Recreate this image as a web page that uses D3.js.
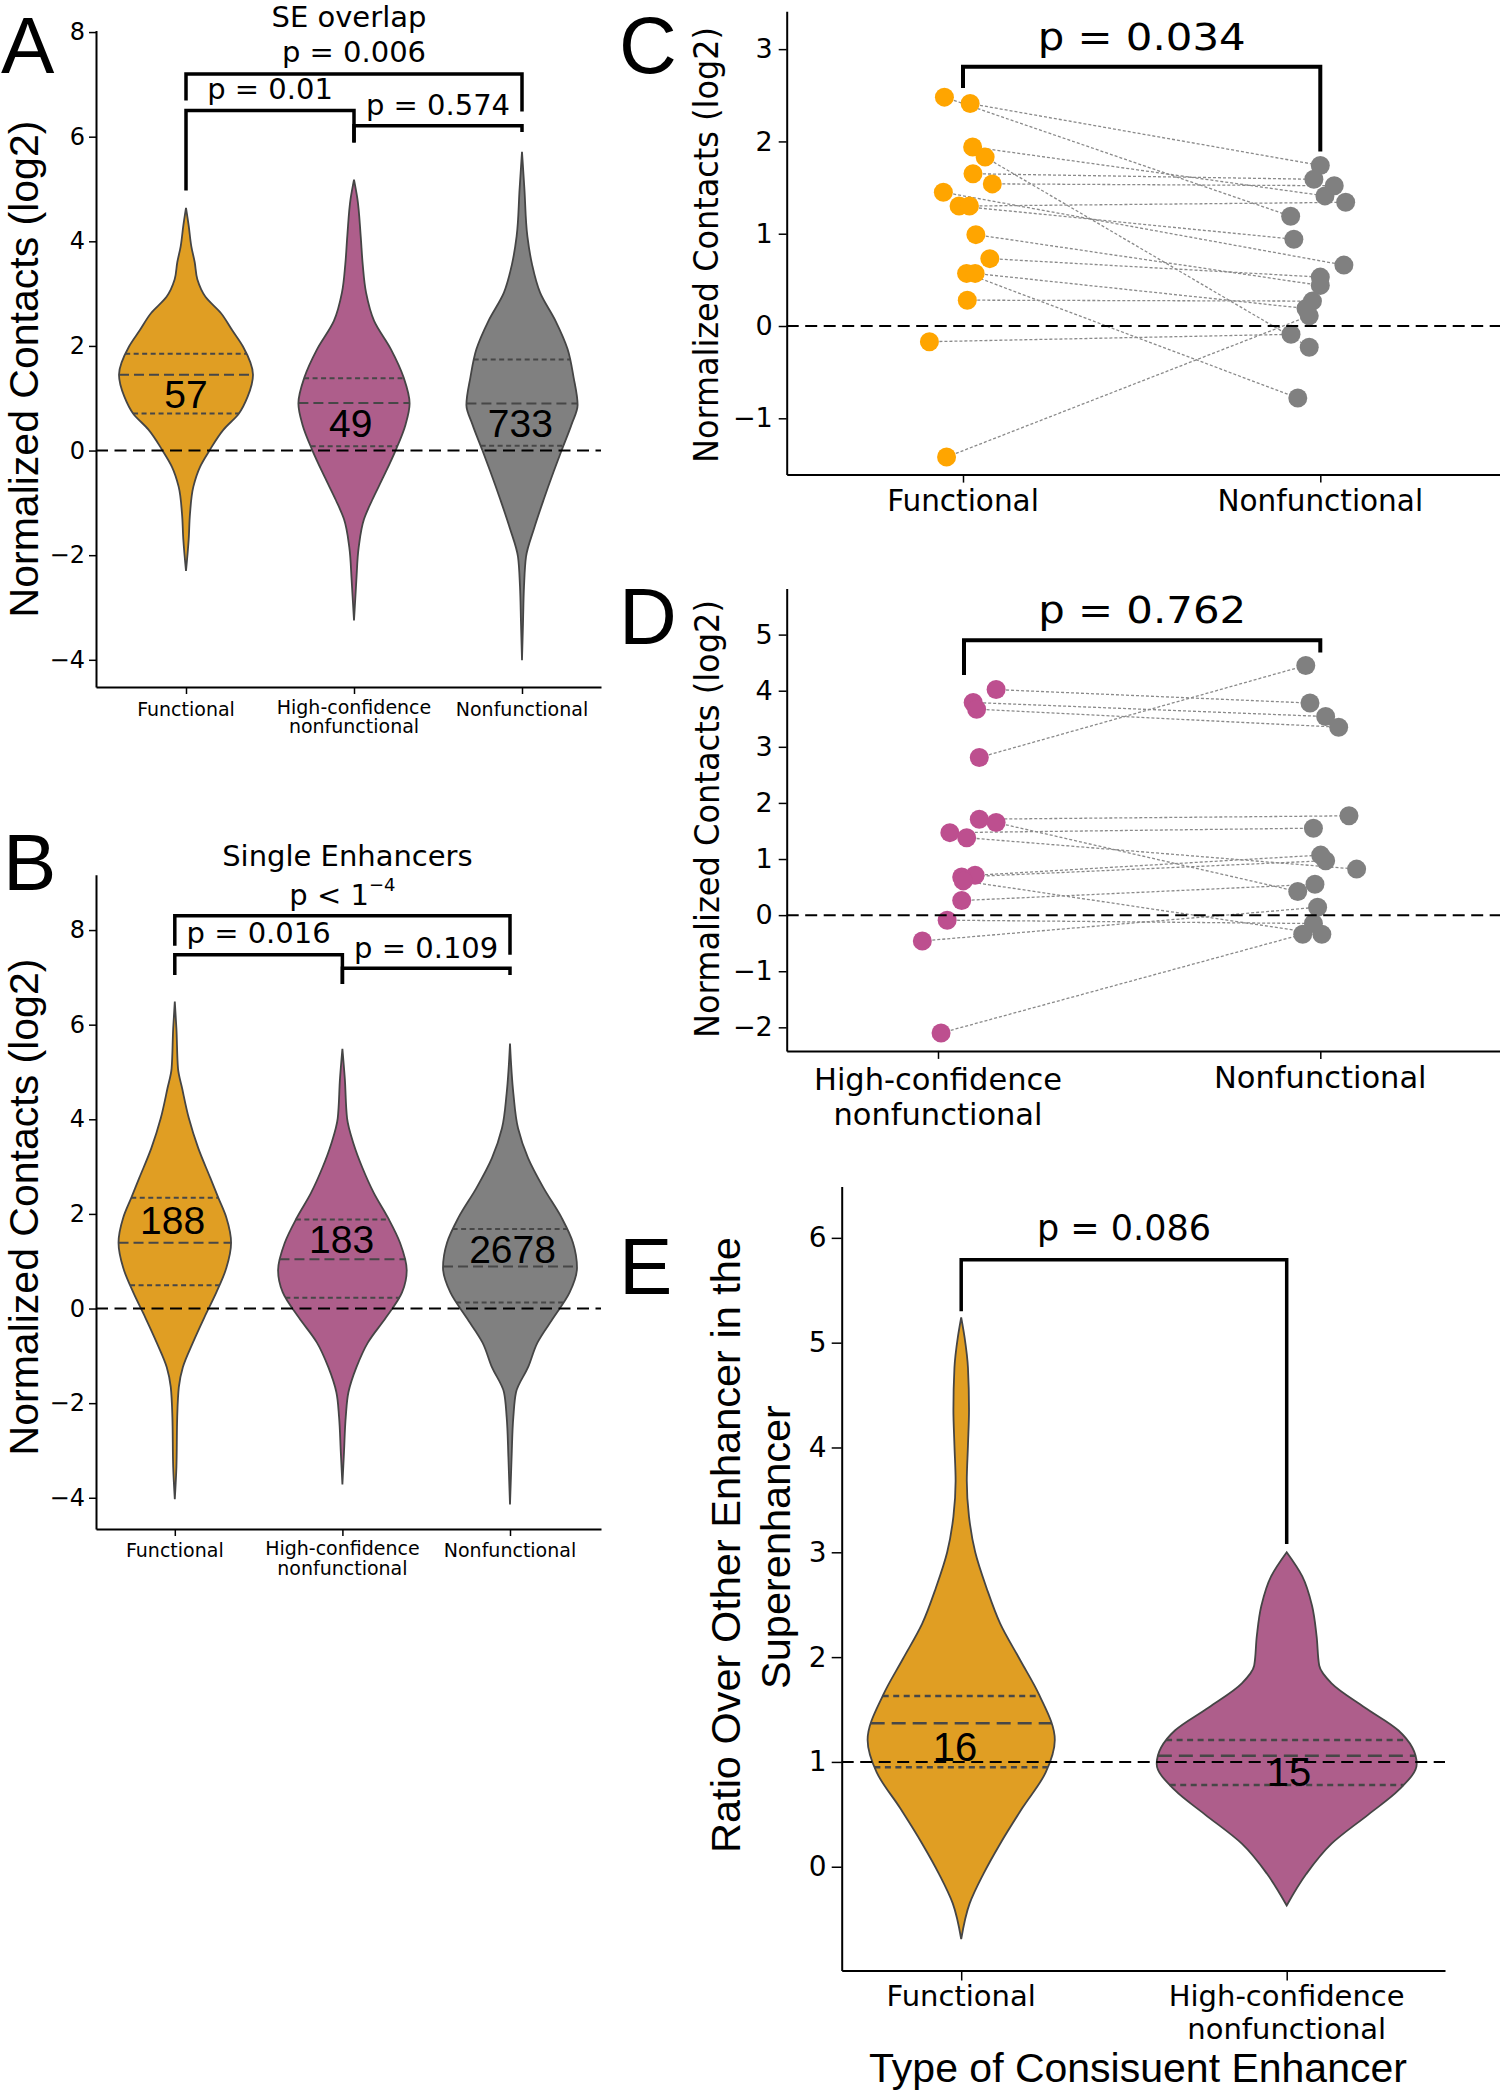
<!DOCTYPE html>
<html><head><meta charset="utf-8">
<script src="https://cdn.jsdelivr.net/npm/d3@7"></script>
<style>body{margin:0;background:#fff}svg{display:block}</style>
</head><body><script>
// ================= DATA =================
const catsAB = [["Functional"], ["High-confidence", "nonfunctional"], ["Nonfunctional"]];
const catsC = [["Functional"], ["Nonfunctional"]];
const catsD = [["High-confidence", "nonfunctional"], ["Nonfunctional"]];
const catsE = [["Functional"], ["High-confidence", "nonfunctional"]];
const ticksA = [-4, -2, 0, 2, 4, 6, 8];
const ticksB = [-4, -2, 0, 2, 4, 6, 8];
const ticksC = [-1, 0, 1, 2, 3];
const ticksD = [-2, -1, 0, 1, 2, 3, 4, 5];
const ticksE = [0, 1, 2, 3, 4, 5, 6];

// Panel A (SE overlap) violin profiles: level (log2) and relative half-width
const aFuncV = [4.64, 4.3, 3.9, 3.6, 3.27, 2.94, 2.63, 2.30, 1.99, 1.45, 1.03, 0.71, 0.40, 0.0, -0.31, -0.69, -1.2, -1.7, -2.30];
const aFuncD = [0, 0.04, 0.08, 0.13, 0.17, 0.29, 0.52, 0.69, 0.85, 1.0, 0.92, 0.79, 0.56, 0.35, 0.21, 0.11, 0.06, 0.04, 0];
const aHcV = [5.18, 4.82, 4.10, 3.56, 3.02, 2.48, 1.94, 1.40, 0.90, 0.50, 0, -0.50, -0.95, -1.31, -1.85, -2.48, -3.25];
const aHcD = [0, 0.05, 0.10, 0.13, 0.18, 0.30, 0.55, 0.74, 0.83, 0.77, 0.62, 0.44, 0.27, 0.15, 0.07, 0.035, 0];
const aNfV = [5.71, 5.0, 4.10, 3.56, 3.02, 2.48, 1.94, 1.40, 0.87, 0.50, 0, -0.41, -0.95, -1.49, -2.03, -2.6, -3.3, -4.01];
const aNfD = [0, 0.036, 0.08, 0.15, 0.27, 0.5, 0.68, 0.77, 0.83, 0.74, 0.59, 0.47, 0.32, 0.18, 0.06, 0.03, 0.015, 0];
const aQuart = [[0.71, 1.45, 1.85], [0.08, 0.91, 1.38], [0.09, 0.90, 1.74]];
const aCounts = ["57", "49", "733"];
const aCountPos = [[0, 1.08], [0.98, 0.52], [1.99, 0.52]];
const aBrackets = [[0, 2, 7.20, 6.69, 6.48], [0, 1, 6.50, 4.97, 5.89], [1, 2, 6.21, 5.89, 6.09]];
const aTexts = [[0.97, 8.09, "SE overlap"], [1, 7.43, "p = 0.006"], [0.5, 6.72, "p = 0.01"], [1.5, 6.41, "p = 0.574"]];

// Panel B (Single Enhancers)
const bFuncV = [6.49, 5.92, 5.07, 4.65, 4.02, 3.39, 2.76, 2.34, 1.92, 1.39, 0.86, 0.34, -0.19, -0.72, -1.24, -1.66, -2.29, -3.35, -4.03];
const bFuncD = [0, 0.024, 0.048, 0.11, 0.21, 0.35, 0.53, 0.65, 0.77, 0.84, 0.77, 0.62, 0.44, 0.27, 0.12, 0.06, 0.036, 0.024, 0];
const bHcV = [5.49, 4.86, 4.02, 3.49, 2.97, 2.44, 1.92, 1.39, 0.81, 0.34, -0.19, -0.72, -1.24, -1.77, -2.29, -3.03, -3.72];
const bHcD = [0, 0.036, 0.07, 0.165, 0.3, 0.47, 0.68, 0.86, 0.96, 0.89, 0.65, 0.38, 0.21, 0.09, 0.05, 0.024, 0];
const bNfV = [5.6, 4.55, 3.81, 3.18, 2.55, 1.92, 1.39, 0.86, 0.34, -0.19, -0.72, -1.24, -1.77, -2.29, -3.14, -4.14];
const bNfD = [0, 0.05, 0.12, 0.27, 0.5, 0.77, 0.94, 1.0, 0.89, 0.65, 0.41, 0.27, 0.09, 0.05, 0.024, 0];
const bQuart = [[0.49, 1.39, 2.34], [0.23, 1.04, 1.88], [0.13, 0.89, 1.68]];
const bCounts = ["188", "183", "2678"];
const bCountPos = [[-0.013, 1.88], [0.995, 1.47], [2.015, 1.25]];
const bBrackets = [[0, 2, 8.30, 7.67, 7.48], [0, 1, 7.48, 7.05, 6.86], [1, 2, 7.19, 6.86, 7.05]];
const bTexts = [[1.03, 9.36, "Single Enhancers"], [0.5, 7.72, "p = 0.016"], [1.5, 7.41, "p = 0.109"]];
const bSigText = [1.0, 8.53, "p < 1", "\u22124"];

// Panel C (paired: Functional vs Nonfunctional)
const cFunc = [2.48, 2.41, 1.94, 1.83, 1.65, 1.54, 1.45, 1.30, 1.30, 0.99, 0.73, 0.57, 0.57, 0.28, -0.17, -1.42];
const cFuncJit = [-0.052, 0.020, 0.027, 0.062, 0.028, 0.082, -0.055, -0.011, 0.018, 0.036, 0.075, 0.010, 0.034, 0.012, -0.094, -0.046];
const cNf = [1.74, 1.59, 1.52, 1.41, 1.34, 1.19, 0.94, 0.66, 0.53, 0.44, 0.27, 0.19, 0.11, -0.09, -0.23, -0.78];
const cNfJit = [0.0, -0.018, 0.039, 0.013, 0.071, -0.083, -0.074, 0.066, 0.0, 0.0, -0.022, -0.040, -0.031, -0.082, -0.031, -0.063];
const cPairs = [5, 0, 3, 14, 1, 2, 7, 6, 4, 9, 8, 15, 11, 10, 13, 12];
const cBracket = [0, 1, 2.81, 2.58, 1.89];
const cText = [0.5, 2.99, "p = 0.034"];

// Panel D (paired: High-confidence nonfunctional vs Nonfunctional)
const dHc = [4.02, 3.79, 3.67, 2.81, 1.71, 1.65, 1.47, 1.38, 0.71, 0.68, 0.61, 0.26, -0.09, -0.46, -2.10];
const dHcJit = [0.152, 0.092, 0.101, 0.108, 0.108, 0.152, 0.031, 0.075, 0.097, 0.062, 0.066, 0.062, 0.024, -0.041, 0.008];
const dNf = [4.45, 3.78, 3.54, 3.35, 1.77, 1.55, 1.07, 0.97, 0.82, 0.55, 0.42, 0.14, -0.15, -0.34, -0.34];
const dNfJit = [-0.038, -0.027, 0.014, 0.048, 0.075, -0.018, 0.001, 0.014, 0.095, -0.014, -0.059, -0.007, -0.018, -0.046, 0.004];
const dPairs = [1, 2, 3, 0, 4, 10, 5, 8, 6, 7, 14, 9, 12, 11, 13];
const dBracket = [0.068, 1, 4.90, 4.28, 4.68];
const dText = [0.534, 5.21, "p = 0.762"];

// Panel E (ratio over other enhancer)
const eFuncV = [5.24, 5.05, 4.76, 4.36, 4.02, 3.68, 3.34, 3.0, 2.66, 2.32, 1.98, 1.64, 1.21, 0.90, 0.56, 0.22, -0.07, -0.35, -0.69];
const eFuncD = [0, 0.026, 0.052, 0.06, 0.052, 0.043, 0.06, 0.108, 0.195, 0.30, 0.45, 0.60, 0.72, 0.65, 0.47, 0.30, 0.17, 0.065, 0];
const eHcV = [3.0, 2.77, 2.49, 2.2, 1.92, 1.75, 1.52, 1.30, 0.98, 0.73, 0.50, 0.22, -0.07, -0.37];
const eHcD = [0, 0.12, 0.195, 0.23, 0.25, 0.345, 0.60, 0.86, 1.0, 0.86, 0.63, 0.345, 0.15, 0];
const eQuart = [[0.95, 1.37, 1.63], [0.78, 1.06, 1.21]];
const eCounts = ["16", "15"];
const eCountPos = [[-0.019, 1.15], [1.007, 0.91]];
const eBracket = [0, 1, 5.79, 5.30, 3.08];
const eText = [0.5, 5.98, "p = 0.086"];

// ================= STYLE =================
const FT = '"DejaVu Sans", sans-serif';
const FA = '"Liberation Sans", Arial, sans-serif';
const VCOL = ["#E09E23", "#AE5E8B", "#808080"];
const DOTC = {func: "#FFA500", hc: "#BD4F8F", nf: "#808080"};
const OUTLINE = "#454545";

const svg = d3.select("body").append("svg").attr("width", 1500).attr("height", 2093)
  .style("background", "#fff");

const fmtTick = d => (d < 0 ? "\u2212" + Math.abs(d) : String(d));

function makeAxes(o) {
  const g = svg.append("g");
  const ys = d3.scaleLinear().domain(o.yDom).range([o.yBot, o.yTop]);
  const xs = d3.scaleLinear().domain([0, o.nCat - 1]).range(o.catPx);
  const xa = d3.scaleLinear().domain([xs.invert(o.x0), xs.invert(o.x1)]).range([o.x0, o.x1]);
  const yg = g.append("g").attr("transform", `translate(${o.x0},0)`)
    .call(d3.axisLeft(ys).tickValues(o.yTicks).tickFormat(fmtTick).tickSize(o.tick).tickSizeOuter(0).tickPadding(o.pad));
  yg.select(".domain").attr("stroke", "#000").attr("stroke-width", 2);
  yg.selectAll(".tick line").attr("stroke", "#000").attr("stroke-width", 1.5);
  yg.selectAll(".tick text").attr("font-family", FT).attr("font-size", o.yFs).attr("fill", "#000");
  const xg = g.append("g").attr("transform", `translate(0,${o.yBot})`)
    .call(d3.axisBottom(xa).tickValues(d3.range(o.nCat)).tickFormat("").tickSize(o.tick).tickSizeOuter(0));
  xg.select(".domain").attr("stroke", "#000").attr("stroke-width", 2);
  xg.selectAll(".tick line").attr("stroke", "#000").attr("stroke-width", 1.5);
  o.cats.forEach((lines, i) => {
    const t = g.append("text").attr("font-family", FT).attr("font-size", o.xFs).attr("text-anchor", "middle").attr("fill", "#000");
    lines.forEach((ln, k) => {
      t.append("tspan").attr("x", xs(i)).attr("y", (lines.length === 1 ? o.xLab1 : (k === 0 ? o.xLab2a : o.xLab2b))).text(ln);
    });
  });
  return {g, xs, ys};
}

function drawViolin(g, xs, ys, idx, vals, dens, half, fill, quart, qStyle) {
  const pts = vals.map((v, i) => ({v, d: dens[i]}));
  const cx = xs(idx);
  const area = d3.area().y(d => ys(d.v)).x0(d => cx - d.d * half).x1(d => cx + d.d * half).curve(d3.curveMonotoneY);
  g.append("path").attr("d", area(pts)).attr("fill", fill).attr("stroke", OUTLINE).attr("stroke-width", 1.8);
  const rightLine = d3.line().y(d => ys(d.v)).x(d => cx + d.d * half).curve(d3.curveMonotoneY);
  const tmp = g.append("path").attr("d", rightLine(pts)).attr("fill", "none").attr("stroke", "none");
  const node = tmp.node(), L = node.getTotalLength();
  const samples = d3.range(0, 801).map(k => node.getPointAtLength(L * k / 800));
  tmp.remove();
  function halfAt(yPx) {
    for (let k = 0; k < samples.length - 1; k++) {
      const a = samples[k], b = samples[k + 1];
      if ((a.y - yPx) * (b.y - yPx) <= 0 && a.y !== b.y) {
        const t = (yPx - a.y) / (b.y - a.y);
        return a.x + t * (b.x - a.x) - cx;
      }
    }
    return 0;
  }
  quart.forEach((q, k) => {
    const yp = ys(q), h = halfAt(yp);
    g.append("line").attr("x1", cx - h).attr("x2", cx + h).attr("y1", yp).attr("y2", yp)
      .attr("stroke", "#474747").attr("stroke-width", qStyle.w)
      .attr("stroke-dasharray", k === 1 ? qStyle.med : qStyle.q);
  });
}

function refLine(g, ax, o, v) {
  g.append("line").attr("x1", o.x0).attr("x2", o.x1).attr("y1", ax.ys(v)).attr("y2", ax.ys(v))
    .attr("stroke", "#000").attr("stroke-width", 2).attr("stroke-dasharray", "12,6.5");
}

function bracket(g, ax, br, w) {
  const [xa, xb, yb, yl, yr] = br;
  const p = d3.path();
  p.moveTo(ax.xs(xa), ax.ys(yl)); p.lineTo(ax.xs(xa), ax.ys(yb));
  p.lineTo(ax.xs(xb), ax.ys(yb)); p.lineTo(ax.xs(xb), ax.ys(yr));
  g.append("path").attr("d", p.toString()).attr("fill", "none").attr("stroke", "#000").attr("stroke-width", w);
}

function label(g, x, y, txt, fs, font, opts = {}) {
  const t = g.append("text").attr("x", x).attr("y", y).attr("font-family", font).attr("font-size", fs)
    .attr("text-anchor", opts.anchor || "middle").attr("fill", "#000").text(txt);
  if (opts.len) t.attr("textLength", opts.len).attr("lengthAdjust", "spacingAndGlyphs");
  return t;
}

function counts(g, ax, arr, pos, fs) {
  arr.forEach((c, i) => {
    label(g, ax.xs(pos[i][0]), ax.ys(pos[i][1]), c, fs, FA).attr("dy", "0.36em");
  });
}

function yLabel(x, y, txt, fs, font, len) {
  const t = svg.append("text").attr("transform", `translate(${x},${y}) rotate(-90)`)
    .attr("font-family", font).attr("font-size", fs).attr("text-anchor", "middle").attr("fill", "#000").text(txt);
  if (len) t.attr("textLength", len).attr("lengthAdjust", "spacingAndGlyphs");
}

const qAB = {w: 2, q: "5,3.5", med: "10,5"};

// ================= PANEL A =================
const oA = {x0: 96, x1: 601, yTop: 30.5, yBot: 687, yDom: [-4.52, 8.03], nCat: 3, catPx: [186, 522],
  yTicks: ticksA, tick: 7, pad: 4, yFs: 24, xFs: 19, cats: catsAB, xLab1: 716, xLab2a: 714, xLab2b: 733};
const axA = makeAxes(oA);
[[aFuncV, aFuncD], [aHcV, aHcD], [aNfV, aNfD]].forEach((p, i) =>
  drawViolin(axA.g, axA.xs, axA.ys, i, p[0], p[1], 67, VCOL[i], aQuart[i], qAB));
refLine(axA.g, axA, oA, 0);
counts(axA.g, axA, aCounts, aCountPos, 39);
aBrackets.forEach(b => bracket(axA.g, axA, b, 3.5));
aTexts.forEach(t => label(axA.g, axA.xs(t[0]), axA.ys(t[1]), t[2], 29, FT));
yLabel(37.5, 369, "Normalized Contacts (log2)", 41, FA);

// ================= PANEL B =================
const oB = {x0: 96, x1: 601, yTop: 874.7, yBot: 1529, yDom: [-4.66, 9.17], nCat: 3, catPx: [174.8, 510],
  yTicks: ticksB, tick: 7, pad: 4, yFs: 24, xFs: 19, cats: catsAB, xLab1: 1557, xLab2a: 1555, xLab2b: 1574.5};
const axB = makeAxes(oB);
[[bFuncV, bFuncD], [bHcV, bHcD], [bNfV, bNfD]].forEach((p, i) =>
  drawViolin(axB.g, axB.xs, axB.ys, i, p[0], p[1], 67, VCOL[i], bQuart[i], qAB));
refLine(axB.g, axB, oB, 0);
counts(axB.g, axB, bCounts, bCountPos, 39);
bBrackets.forEach(b => bracket(axB.g, axB, b, 3.5));
bTexts.forEach(t => label(axB.g, axB.xs(t[0]), axB.ys(t[1]), t[2], 29, FT));
{
  const t = label(axB.g, axB.xs(bSigText[0]), axB.ys(bSigText[1]), bSigText[2], 29, FT);
  t.append("tspan").attr("font-size", 18).attr("dy", -14).text(bSigText[3]);
}
yLabel(37.5, 1207, "Normalized Contacts (log2)", 41, FA);

// ================= PANEL C & D (paired dots) =================
function pairedPanel(o, leftVals, leftJit, rightVals, rightJit, pairs, leftCol, br, txt) {
  const ax = makeAxes(o);
  const pl = leftVals.map((v, i) => ({x: ax.xs(0 + leftJit[i]), y: ax.ys(v)}));
  const pr = rightVals.map((v, i) => ({x: ax.xs(1 + rightJit[i]), y: ax.ys(v)}));
  pairs.forEach((j, i) => {
    ax.g.append("line").attr("x1", pl[i].x).attr("y1", pl[i].y).attr("x2", pr[j].x).attr("y2", pr[j].y)
      .attr("stroke", "#8a8a8a").attr("stroke-width", 1.3).attr("stroke-dasharray", "3,2");
  });
  ax.g.selectAll(null).data(pl).join("circle").attr("cx", d => d.x).attr("cy", d => d.y).attr("r", 9.5).attr("fill", leftCol);
  ax.g.selectAll(null).data(pr).join("circle").attr("cx", d => d.x).attr("cy", d => d.y).attr("r", 9.5).attr("fill", DOTC.nf);
  refLine(ax.g, ax, o, 0);
  bracket(ax.g, ax, br, 4);
  label(ax.g, ax.xs(txt[0]), ax.ys(txt[1]), txt[2], 37, FT, {len: 208});
  return ax;
}
const oC = {x0: 786.7, x1: 1500, yTop: 11.3, yBot: 474.6, yDom: [-1.61, 3.41], nCat: 2, catPx: [963, 1320.3],
  yTicks: ticksC, tick: 8, pad: 6, yFs: 27, xFs: 29.5, cats: catsC, xLab1: 511, xLab2a: 511, xLab2b: 546};
pairedPanel(oC, cFunc, cFuncJit, cNf, cNfJit, cPairs, DOTC.func, cBracket, cText);
yLabel(718, 245, "Normalized Contacts (log2)", 34, FT, 436);

const oD = {x0: 786.7, x1: 1500, yTop: 588.6, yBot: 1050.9, yDom: [-2.42, 5.82], nCat: 2, catPx: [938, 1320.3],
  yTicks: ticksD, tick: 8, pad: 6, yFs: 27, xFs: 30.5, cats: catsD, xLab1: 1088, xLab2a: 1090, xLab2b: 1125};
pairedPanel(oD, dHc, dHcJit, dNf, dNfJit, dPairs, DOTC.hc, dBracket, dText);
yLabel(719, 819, "Normalized Contacts (log2)", 34, FT, 438);

// ================= PANEL E =================
const oE = {x0: 841.7, x1: 1445, yTop: 1186.5, yBot: 1970.5, yDom: [-0.99, 6.49], nCat: 2, catPx: [961.2, 1286.7],
  yTicks: ticksE, tick: 10, pad: 5, yFs: 28, xFs: 29, cats: catsE, xLab1: 2006, xLab2a: 2006, xLab2b: 2039};
const axE = makeAxes(oE);
[[eFuncV, eFuncD], [eHcV, eHcD]].forEach((p, i) =>
  drawViolin(axE.g, axE.xs, axE.ys, i, p[0], p[1], 130, VCOL[i], eQuart[i], {w: 2.5, q: "6,4.5", med: "14,7"}));
refLine(axE.g, axE, oE, 1);
counts(axE.g, axE, eCounts, eCountPos, 40);
bracket(axE.g, axE, eBracket, 3.5);
label(axE.g, axE.xs(eText[0]), axE.ys(eText[1]), eText[2], 35, FT);
yLabel(740, 1545, "Ratio Over Other Enhancer in the", 41.5, FA);
yLabel(790, 1547, "Superenhancer", 41.5, FA);
label(svg, 1138, 2082, "Type of Consisuent Enhancer", 41, FA);

// ================= PANEL LETTERS =================
[["A", 1, 73], ["B", 3, 890], ["C", 619, 73], ["D", 619, 644], ["E", 619, 1294]].forEach(l =>
  label(svg, l[1], l[2], l[0], 80, FA, {anchor: "start"}));
</script></body></html>
